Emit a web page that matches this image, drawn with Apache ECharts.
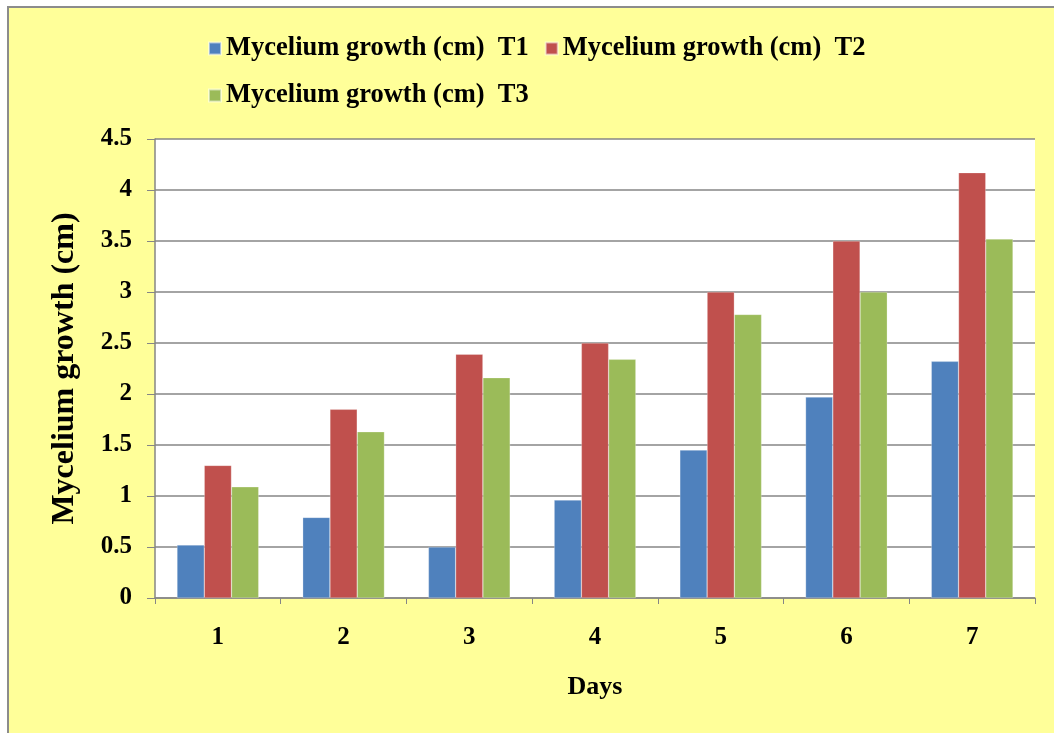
<!DOCTYPE html>
<html>
<head>
<meta charset="utf-8">
<script src="https://cdn.jsdelivr.net/npm/echarts@6/dist/echarts.min.js"></script>
<style>
html,body{margin:0;padding:0;background:#ffffff;}
#chart{width:1054px;height:733px;}
</style>
</head>
<body>
<div id="chart"></div>
<script>
const categories = ['1', '2', '3', '4', '5', '6', '7'];
const seriesNames = ['Mycelium growth (cm)  T1', 'Mycelium growth (cm)  T2', 'Mycelium growth (cm)  T3'];
const t1 = [0.52, 0.79, 0.50, 0.96, 1.45, 1.97, 2.32];
const t2 = [1.30, 1.85, 2.39, 2.50, 3.00, 3.50, 4.17];
const t3 = [1.09, 1.63, 2.16, 2.34, 2.78, 3.00, 3.52];
const colors = ['#4F81BD', '#C0504D', '#9BBB59'];

const font = 'Liberation Serif';
const chart = echarts.init(document.getElementById('chart'), null, {renderer: 'canvas'});
const mk = (name, data, c) => ({
  name, type: 'bar', data, barGap: '0%', barCategoryGap: '35%',
  itemStyle: {color: c, borderColor: 'rgba(255,255,255,0.5)', borderWidth: 0.5},
  emphasis: {disabled: true}
});
chart.setOption({
  animation: false,
  backgroundColor: '#ffffff',
  graphic: [{
    type: 'rect', z: -10, silent: true,
    shape: {x: 8, y: 7, width: 1060, height: 740},
    style: {fill: '#FFFF99', stroke: '#8c8c8c', lineWidth: 2}
  }],
  legend: {
    left: 203, top: 28, width: 720,
    itemWidth: 12, itemHeight: 12, itemGap: 16,
    icon: 'rect',
    textStyle: {fontFamily: font, fontWeight: 'bold', fontSize: 26.5, color: '#000', lineHeight: 31},
    data: seriesNames
  },
  grid: {left: 155, right: 19, top: 139, bottom: 135, backgroundColor: '#ffffff', show: true, borderWidth: 0},
  xAxis: {
    type: 'category', data: categories,
    name: 'Days', nameLocation: 'middle', nameGap: 76,
    nameTextStyle: {fontFamily: font, fontWeight: 'bold', fontSize: 26, color: '#000'},
    axisLine: {lineStyle: {color: '#868686', width: 1.5}},
    axisTick: {show: true, alignWithLabel: false, length: 6, lineStyle: {color: '#868686'}},
    axisLabel: {fontFamily: font, fontWeight: 'bold', fontSize: 25, color: '#000', margin: 27}
  },
  yAxis: {
    type: 'value', min: 0, max: 4.5, interval: 0.5,
    name: 'Mycelium growth (cm)', nameLocation: 'middle', nameGap: 74, nameRotate: 90,
    nameTextStyle: {fontFamily: font, fontWeight: 'bold', fontSize: 32, color: '#000'},
    axisLine: {show: true, lineStyle: {color: '#868686', width: 1.5}},
    axisTick: {show: true, length: 8, lineStyle: {color: '#868686'}},
    axisLabel: {fontFamily: font, fontWeight: 'bold', fontSize: 25, color: '#000', margin: 23},
    splitLine: {lineStyle: {color: '#868686', width: 1.5}}
  },
  series: [mk(seriesNames[0], t1, colors[0]), mk(seriesNames[1], t2, colors[1]), mk(seriesNames[2], t3, colors[2])]
});
</script>
</body>
</html>
